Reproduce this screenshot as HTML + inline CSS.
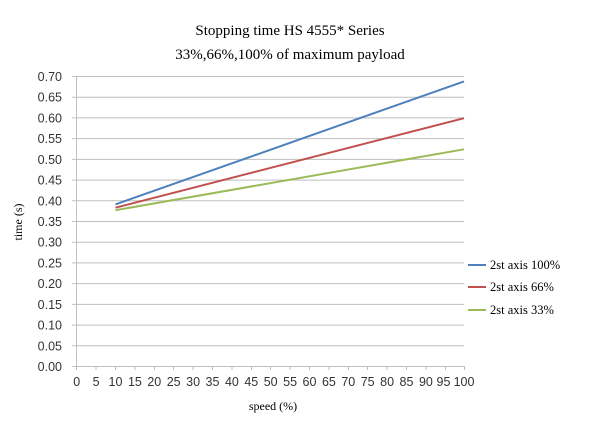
<!DOCTYPE html>
<html><head><style>body{margin:0;background:#fff}</style></head><body>
<svg width="600" height="422" xmlns="http://www.w3.org/2000/svg">
<rect width="600" height="422" fill="#fff"/>
<g font-family="Liberation Serif, serif" font-size="15" fill="#000" text-anchor="middle">
<text x="290" y="35">Stopping time HS 4555* Series</text>
<text x="290" y="59">33%,66%,100% of maximum payload</text>
</g>
<g stroke="#bfbfbf" stroke-width="1">
<line x1="72" y1="76.5" x2="464" y2="76.5"/><line x1="72" y1="97.2" x2="464" y2="97.2"/><line x1="72" y1="117.9" x2="464" y2="117.9"/><line x1="72" y1="138.6" x2="464" y2="138.6"/><line x1="72" y1="159.4" x2="464" y2="159.4"/><line x1="72" y1="180.1" x2="464" y2="180.1"/><line x1="72" y1="200.8" x2="464" y2="200.8"/><line x1="72" y1="221.5" x2="464" y2="221.5"/><line x1="72" y1="242.2" x2="464" y2="242.2"/><line x1="72" y1="262.9" x2="464" y2="262.9"/><line x1="72" y1="283.6" x2="464" y2="283.6"/><line x1="72" y1="304.4" x2="464" y2="304.4"/><line x1="72" y1="325.1" x2="464" y2="325.1"/><line x1="72" y1="345.8" x2="464" y2="345.8"/><line x1="72" y1="366.5" x2="464" y2="366.5"/>
<line x1="76.5" y1="76" x2="76.5" y2="370"/>
</g>
<g font-family="Liberation Sans, sans-serif" font-size="12.5" fill="#333" text-anchor="end">
<text x="62" y="81">0.70</text><text x="62" y="101.7">0.65</text><text x="62" y="122.4">0.60</text><text x="62" y="143.1">0.55</text><text x="62" y="163.9">0.50</text><text x="62" y="184.6">0.45</text><text x="62" y="205.3">0.40</text><text x="62" y="226">0.35</text><text x="62" y="246.7">0.30</text><text x="62" y="267.4">0.25</text><text x="62" y="288.1">0.20</text><text x="62" y="308.9">0.15</text><text x="62" y="329.6">0.10</text><text x="62" y="350.3">0.05</text><text x="62" y="371">0.00</text>
</g>
<g font-family="Liberation Sans, sans-serif" font-size="12.5" fill="#333" text-anchor="middle">
<text x="76.7" y="386">0</text><text x="96.1" y="386">5</text><text x="115.5" y="386">10</text><text x="134.9" y="386">15</text><text x="154.3" y="386">20</text><text x="173.7" y="386">25</text><text x="193.1" y="386">30</text><text x="212.5" y="386">35</text><text x="231.9" y="386">40</text><text x="251.3" y="386">45</text><text x="270.7" y="386">50</text><text x="290.1" y="386">55</text><text x="309.5" y="386">60</text><text x="328.9" y="386">65</text><text x="348.3" y="386">70</text><text x="367.7" y="386">75</text><text x="387.1" y="386">80</text><text x="406.5" y="386">85</text><text x="425.9" y="386">90</text><text x="443.5" y="386">95</text><text x="464" y="386">100</text>
</g>
<g stroke="#bfbfbf">
<path d="M76.5 366v4M96 366v4M115.5 366v4M135 366v4M154.5 366v4M173.5 366v4M193 366v4M212.5 366v4M232 366v4M251.5 366v4M270.5 366v4M290 366v4M309.5 366v4M329 366v4M348.5 366v4M367.5 366v4M387 366v4M406.5 366v4M426 366v4M445.5 366v4M464.5 366v4"/>
</g>
<text x="273" y="410" font-family="Liberation Serif, serif" font-size="12" text-anchor="middle">speed (%)</text>
<text transform="translate(22,222) rotate(-90)" font-family="Liberation Serif, serif" font-size="12" text-anchor="middle">time (s)</text>
<g stroke-width="2" fill="none">
<line x1="115.5" y1="204.4" x2="464" y2="81.4" stroke="#4f81bd"/>
<line x1="115.5" y1="207.7" x2="464" y2="118.2" stroke="#c0504d"/>
<line x1="115.5" y1="210.2" x2="464" y2="149.3" stroke="#9bbb59"/>
<line x1="468" y1="265" x2="486" y2="265" stroke="#4f81bd"/>
<line x1="468" y1="287" x2="486" y2="287" stroke="#c0504d"/>
<line x1="468" y1="310" x2="486" y2="310" stroke="#9bbb59"/>
</g>
<g font-family="Liberation Serif, serif" font-size="12.5">
<text x="490" y="269">2st axis 100%</text>
<text x="490" y="291">2st axis 66%</text>
<text x="490" y="314">2st axis 33%</text>
</g>
</svg>
</body></html>
